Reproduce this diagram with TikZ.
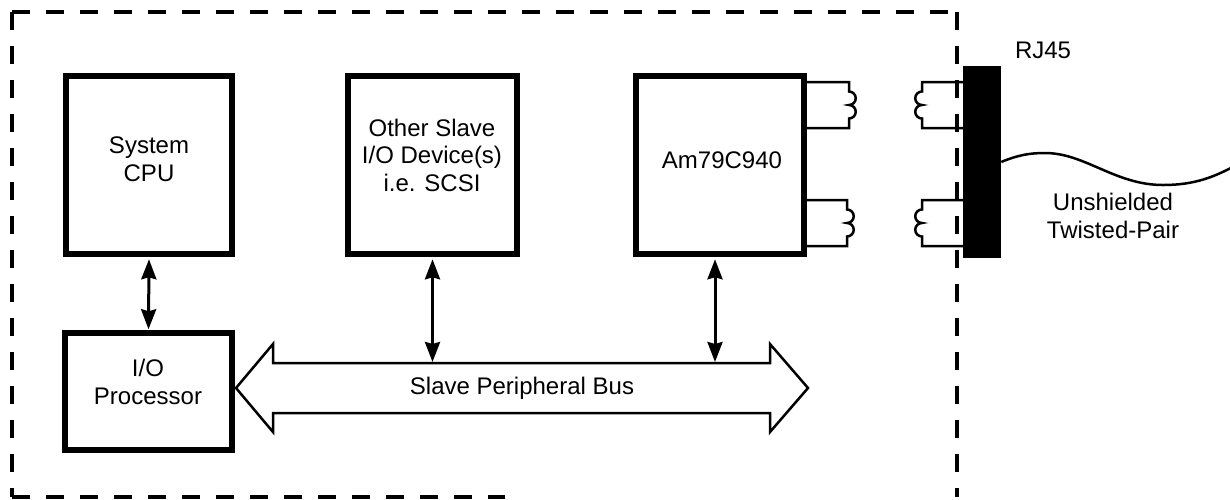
\documentclass[tikz,border=0pt]{standalone}
\usepackage{fontspec}
\setmainfont{Liberation Sans}
\usetikzlibrary{arrows.meta}
\begin{document}
\begin{tikzpicture}[x=1pt,y=-1pt,
  box/.style={draw, line width=5.5pt, inner sep=0pt},
  txt/.style={align=center, inner sep=0pt, font=\fontsize{24}{27.5}\selectfont},
  link/.style={line width=3pt, {Stealth[length=20pt,width=15pt,inset=2pt]}-{Stealth[length=20pt,width=15pt,inset=2pt]}, shorten <=2.5pt, shorten >=1pt},
  border/.style={line width=3.5pt, dash pattern=on 18pt off 16pt},
  thinline/.style={line width=2.5pt},
]
\useasboundingbox (0,0) rectangle (1230,499);

% dashed enclosure
\draw[border] (12,12) -- (12,497);
\draw[border] (12,497) -- (505,497);
\draw[border] (12,12) -- (957,12);
\draw[border] (957,12) -- (957,497);

% boxes
\node[box, minimum width=166pt, minimum height=178pt] (cpu) at (149,165) {};
\node[txt] (cpuT) at (149,159) {System\\CPU};
\node[box, minimum width=169pt, minimum height=178pt] (other) at (432.5,165) {};
\node[txt] (otherT) at (432,155) {Other Slave\\I/O Device(s)\\i.e. SCSI};
\node[box, minimum width=168pt, minimum height=178pt] (am) at (720,165) {};
\node[txt] (amT) at (722,160) {Am79C940};
\node[box, minimum width=167pt, minimum height=117pt] (io) at (148.5,391.5) {};
\node[txt] (ioT) at (148,382) {I/O\\Processor};

% bus
\draw[thinline, line join=miter] (236,388) -- (273,344) -- (273,363) -- (770,363) -- (770,344) -- (808,388) -- (770,432) -- (770,413) -- (273,413) -- (273,432) -- cycle;
\node[txt] (bus) at (522,388) {Slave Peripheral Bus};
\coordinate (busTop) at (520,363);

% links
\draw[link] (cpu.south) -- (io.north);
\draw[link] (other.south) -- (other.south |- busTop);
\draw[link] ([xshift=-5pt]am.south) -- ([xshift=-5pt]am.south |- busTop);

% RJ45 connector
\node[fill=black, inner sep=0pt, minimum width=38pt, minimum height=192pt] (rj) at (982,162) {};
\node[txt] (rjT) at (1043,50) {RJ45};

% transformer windings, chip side
\draw[thinline] (am.east |- 0,82) -- (849,82) -- (849,91.5)
  arc[start angle=90,end angle=-90,radius=6.75pt]
  arc[start angle=90,end angle=-90,radius=6.75pt] -- (849,128) -- (am.east |- 0,128);
\draw[thinline] (am.east |- 0,200) -- (847,200) -- (847,209.5)
  arc[start angle=90,end angle=-90,radius=6.75pt]
  arc[start angle=90,end angle=-90,radius=6.75pt] -- (847,246) -- (am.east |- 0,246);

% transformer windings, connector side
\draw[thinline] (rj.west |- 0,82) -- (922,82) -- (922,91.5)
  arc[start angle=90,end angle=270,radius=6.75pt]
  arc[start angle=90,end angle=270,radius=6.75pt] -- (922,128) -- (rj.west |- 0,128);
\draw[thinline] (rj.west |- 0,200) -- (922,200) -- (922,209.5)
  arc[start angle=90,end angle=270,radius=6.75pt]
  arc[start angle=90,end angle=270,radius=6.75pt] -- (922,246) -- (rj.west |- 0,246);

% twisted pair wire
\draw[thinline] (rj.east) .. controls (1018,155) and (1030,153) .. (1045,153)
  .. controls (1085,153) and (1115,185) .. (1163,185)
  .. controls (1195,185) and (1215,177) .. (1240,163);
\node[txt] (utpT) at (1113,216) {Unshielded\\Twisted-Pair};
\end{tikzpicture}
\end{document}
